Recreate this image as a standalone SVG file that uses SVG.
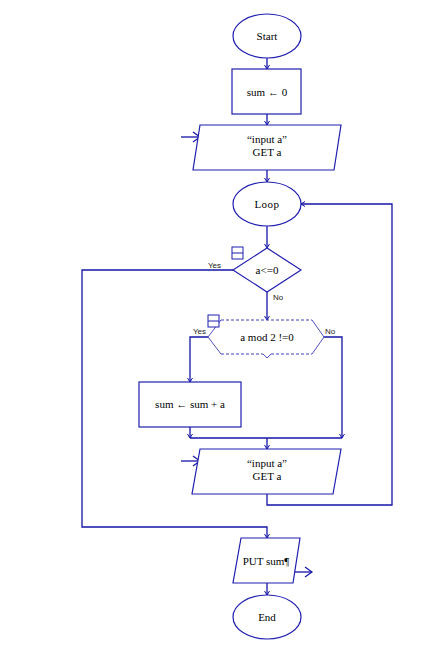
<svg xmlns="http://www.w3.org/2000/svg" width="428" height="652" viewBox="0 0 428 652">
<style>
.sh{fill:#fff;stroke:#1f1fb0;stroke-width:1.2}
.cn{fill:none;stroke:#1414a8;stroke-width:1.3}
.t{font-family:"Liberation Serif",serif;font-size:11px;fill:#000;text-anchor:middle}
.l{font-family:"Liberation Sans",sans-serif;font-size:8px;fill:#222}
.ic{fill:#fff;stroke:#1f1fb0;stroke-width:1}
</style>
<defs>
<marker id="a" markerWidth="8" markerHeight="8" refX="6" refY="4" orient="auto" markerUnits="userSpaceOnUse">
<path d="M2,1.5 L6,4 L2,6.5" fill="none" stroke="#1414a8" stroke-width="1"/>
</marker>
<marker id="b" markerWidth="14" markerHeight="14" refX="12" refY="7" orient="auto" markerUnits="userSpaceOnUse">
<path d="M5,2 L12,7 L5,12" fill="none" stroke="#1414a8" stroke-width="1.2"/>
</marker>
</defs>
<rect width="428" height="652" fill="#fff"/>
<g id="connectors">
<path class="cn" d="M267,58 V69" marker-end="url(#a)"/>
<path class="cn" d="M267,114 V125" marker-end="url(#a)"/>
<path class="cn" d="M181,137 H200" marker-end="url(#b)"/>
<path class="cn" d="M267,170 V182" marker-end="url(#a)"/>
<path class="cn" d="M267,226 V248" marker-end="url(#a)"/>
<path class="cn" d="M233,270 H82 V527 H267 V538" marker-end="url(#a)"/>
<path class="cn" d="M267,292 V320" marker-end="url(#a)"/>
<path class="cn" d="M208,337 H190 V382" marker-end="url(#a)"/>
<path class="cn" d="M190,427 V438" marker-end="url(#a)"/>
<path class="cn" d="M324,337 H342 V438" marker-end="url(#a)"/>
<path class="cn" d="M190,438 H342"/>
<path class="cn" d="M267,438 V449" marker-end="url(#a)"/>
<path class="cn" d="M181,461 H200" marker-end="url(#b)"/>
<path class="cn" d="M267,494 V505 H392 V204 H301" marker-end="url(#a)"/>
<path class="cn" d="M267,583 V595" marker-end="url(#a)"/>
<path class="cn" d="M294,572 H312" marker-end="url(#b)"/>
</g>
<g id="start"><ellipse class="sh" cx="267" cy="36" rx="34" ry="22"/><text class="t" x="267" y="40">Start</text></g>
<g id="init"><rect class="sh" x="232" y="69" width="69" height="45"/><text class="t" x="267" y="96">sum ← 0</text></g>
<g id="input1"><polygon class="sh" points="200,125 341,125 334,170 193,170"/><text class="t" x="267" y="143">“input a”</text><text class="t" x="267" y="156">GET a</text></g>
<g id="loop"><ellipse class="sh" cx="267" cy="204" rx="34" ry="22"/><text class="t" x="267" y="208" style="letter-spacing:0.5px">Loop</text></g>
<g id="cond1"><polygon class="sh" points="267,248 301,270 267,292 233,270"/><text class="t" x="267" y="274">a&lt;=0</text>
<rect class="ic" x="232" y="247" width="11" height="12"/><line class="ic" x1="232" y1="253" x2="243" y2="253"/>
<text class="l" x="208" y="268">Yes</text><text class="l" x="273" y="300">No</text></g>
<g id="cond2">
<polygon fill="#fff" points="221,320 312,320 324,337 312,354 221,354 208,337"/>
<path d="M221,320 H312 M221,354 H263 M271,354 H312" fill="none" stroke="#4040c0" stroke-width="1" stroke-dasharray="3,2"/>
<path d="M312,320 L324,337 L312,354 M221,320 L208,337 L221,354 M263,354 L267,358 L271,354" fill="none" stroke="#5050c0" stroke-width="1"/>
<text class="t" x="267" y="341">a mod 2 !=0</text>
<rect class="ic" x="208" y="315" width="11" height="12"/><line class="ic" x1="208" y1="321" x2="219" y2="321"/>
<text class="l" x="193" y="334">Yes</text><text class="l" x="325" y="334">No</text></g>
<g id="add"><rect class="sh" x="139" y="382" width="102" height="45"/><text class="t" x="190" y="408">sum ← sum  + a</text></g>
<g id="input2"><polygon class="sh" points="200,449 341,449 333,494 192,494"/><text class="t" x="267" y="467">“input a”</text><text class="t" x="267" y="480">GET a</text></g>
<g id="output"><polygon class="sh" points="241,538 300,538 293,583 233,583"/><text class="t" x="266" y="565">PUT sum¶</text></g>
<g id="end"><ellipse class="sh" cx="267" cy="617" rx="34" ry="22"/><text class="t" x="267" y="621">End</text></g>
</svg>
